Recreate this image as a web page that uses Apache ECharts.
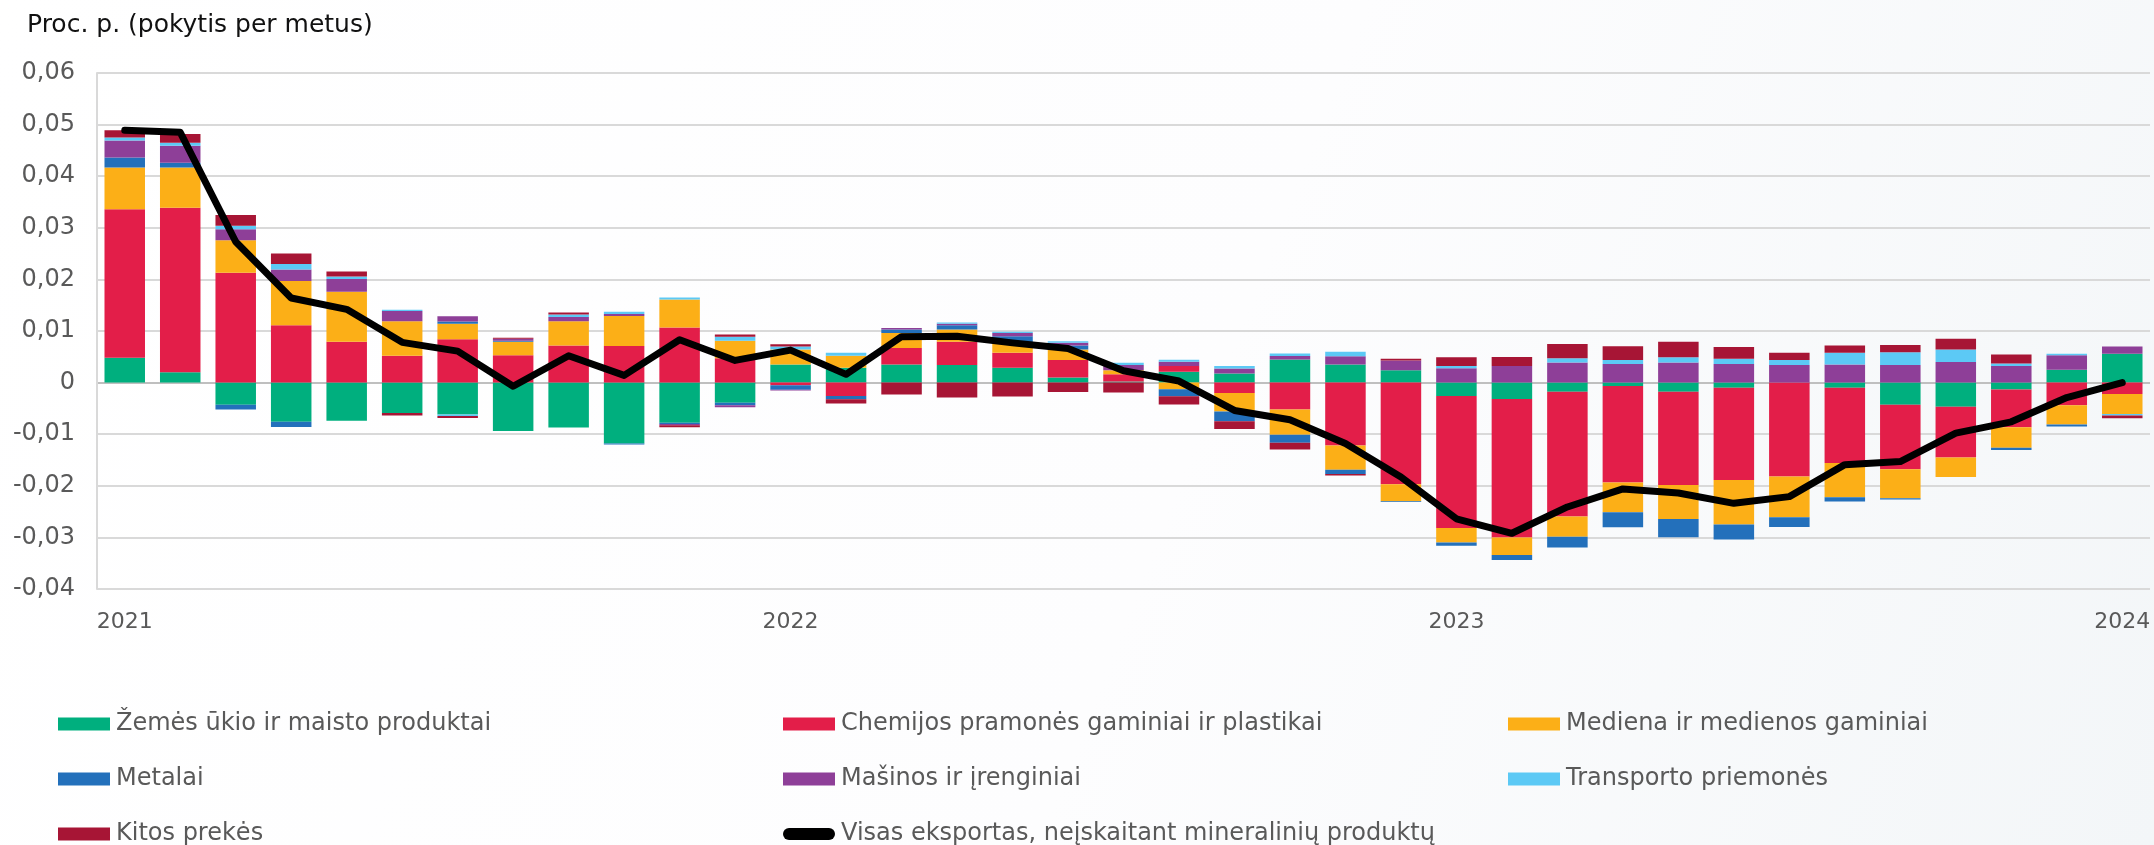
<!DOCTYPE html>
<html>
<head>
<meta charset="utf-8">
<script src="https://cdn.jsdelivr.net/npm/echarts@6/dist/echarts.min.js"></script>
<style>
  html, body { margin: 0; padding: 0; }
  #chart { width: 2154px; height: 845px; }
</style>
</head>
<body>
<div id="chart"></div>
<script>
const months = [
  '2021-01','2021-02','2021-03','2021-04','2021-05','2021-06','2021-07','2021-08','2021-09','2021-10','2021-11','2021-12',
  '2022-01','2022-02','2022-03','2022-04','2022-05','2022-06','2022-07','2022-08','2022-09','2022-10','2022-11','2022-12',
  '2023-01','2023-02','2023-03','2023-04','2023-05','2023-06','2023-07','2023-08','2023-09','2023-10','2023-11','2023-12',
  '2024-01'
]

// proc. p., pokytis per metus
const zemesUkio = [
  0.0048, 0.0020, -0.0043, -0.0076, -0.0074, -0.0059, -0.0062, -0.0094, -0.0087, -0.0118, -0.0078, -0.0039,
  0.0035, 0.0029, 0.0035, 0.0034, 0.0029, 0.0010, 0.0002, 0.0021, 0.00175, 0.0045, 0.0035, 0.0024,
  -0.0026, -0.0032, -0.00175, -0.00065, -0.00175, -0.0010, 0, -0.0010, -0.0043, -0.0047, -0.00135, 0.0025,
  0.0056
]
const chemija = [
  0.0288, 0.0319, 0.0213, 0.0111, 0.0079, 0.0052, 0.0084, 0.0053, 0.0072, 0.0071, 0.0107, 0.0047,
  -0.0005, -0.0026, 0.0032, 0.0045, 0.0029, 0.0034, 0.0014, 0.0011, -0.0020, -0.0052, -0.0122, -0.0197,
  -0.0256, -0.0268, -0.0242, -0.0187, -0.0181, -0.0179, -0.0182, -0.0146, -0.0125, -0.0098, -0.0073, -0.0044,
  -0.0022
]
const mediena = [
  0.0081, 0.0078, 0.0063, 0.0086, 0.0097, 0.0067, 0.0030, 0.0026, 0.0047, 0.0058, 0.0054, 0.0034,
  0.0029, 0.0023, 0.0029, 0.0024, 0.0019, 0.0020, 0.0008, -0.0013, -0.0036, -0.0049, -0.0047, -0.0033,
  -0.0028, -0.0034, -0.0039, -0.0058, -0.0066, -0.0086, -0.0079, -0.0066, -0.0056, -0.0038, -0.0040, -0.0037,
  -0.0039
]
const metalai = [
  0.0019, 0.0009, -0.0009, -0.0010, 0, 0, 0.00045, 0.0002, 0, -0.0002, -0.0002, -0.0005,
  -0.0009, -0.00065, 0.0007, 0.0008, 0.0013, 0.0008, 0, -0.00135, -0.0019, -0.00155, -0.0008, -0.00015,
  -0.0006, -0.0010, -0.0021, -0.0029, -0.0035, -0.0029, -0.0019, -0.00085, -0.00025, 0, -0.0004, -0.0004,
  0
]
const masinos = [
  0.0033, 0.0033, 0.0021, 0.0022, 0.0025, 0.0020, 0.0010, 0.0004, 0.0008, 0.0004, -0.00025, -0.0004,
  -0.00015, 0, 0.0003, 0.0003, 0.0006, 0.0005, 0.0010, 0.00085, 0.0010, 0.00065, 0.0016, 0.0019,
  0.0028, 0.0032, 0.0039, 0.0036, 0.0039, 0.0036, 0.0034, 0.0035, 0.0034, 0.0040, 0.0032, 0.0028,
  0.0014
]
const transportas = [
  0.0006, 0.0006, 0.0007, 0.0011, 0.00045, 0.0002, -0.00025, 0, 0.0005, 0.00045, 0.0004, 0.0008,
  0.0006, 0.0006, 0, 0.00025, 0.00025, 0.0003, 0.00045, 0.0004, 0.00045, 0.0005, 0.0009, 0,
  0.0004, 0, 0.0008, 0.0008, 0.0010, 0.0010, 0.0010, 0.0023, 0.0025, 0.0024, 0.0005, 0.0003,
  -0.0003
]
const kitos = [
  0.0014, 0.0017, 0.0021, 0.0020, 0.0010, -0.0005, -0.0004, 0.0002, 0.0004, 0, -0.0004, 0.0004,
  0.00045, -0.0008, -0.0023, -0.0029, -0.0027, -0.0018, -0.0019, -0.0016, -0.0015, -0.0013, -0.0003, 0.0003,
  0.0017, 0.00175, 0.0028, 0.00265, 0.0030, 0.0023, 0.0014, 0.0014, 0.0014, 0.0021, 0.00175, 0,
  -0.0005
]
const visas = [
  0.0489, 0.0485, 0.0273, 0.0164, 0.0142, 0.0078, 0.0061, -0.0007, 0.0052, 0.0014, 0.0083, 0.0043,
  0.0063, 0.0016, 0.0089, 0.0090, 0.0077, 0.0066, 0.0023, 0.0003, -0.0054, -0.0072, -0.0118, -0.0183,
  -0.0264, -0.0292, -0.0241, -0.0206, -0.0214, -0.0234, -0.0221, -0.0159, -0.0153, -0.0098, -0.0076, -0.0029,
  0.0000
]

const barSeries = [
  { name: 'Žemės ūkio ir maisto produktai', data: zemesUkio, color: '#00AF7E' },
  { name: 'Chemijos pramonės gaminiai ir plastikai', data: chemija, color: '#E31E49' },
  { name: 'Mediena ir medienos gaminiai', data: mediena, color: '#FCAF17' },
  { name: 'Metalai', data: metalai, color: '#2370BB' },
  { name: 'Mašinos ir įrenginiai', data: masinos, color: '#8E3F98' },
  { name: 'Transporto priemonės', data: transportas, color: '#5CC9F5' },
  { name: 'Kitos prekės', data: kitos, color: '#A71535' }
]
const lineName = 'Visas eksportas, neįskaitant mineralinių produktų'

const font = 'DejaVu Sans, Verdana, sans-serif'
const textColor = '#595959'
const gridColor = '#d9d9d9'

// legend slots: 3 columns x 3 rows (legend has 5px default padding)
const legendCols = [53, 778, 1503]
const legendRows = [706, 761, 816]
const legendNames = barSeries.map(s => s.name).concat(lineName)

const legends = legendNames.map((name, i) => ({
  left: legendCols[i % 3],
  top: legendRows[Math.floor(i / 3)],
  itemWidth: 52,
  itemHeight: 13,
  itemGap: 0,
  selectedMode: false,
  icon: name === lineName
    ? 'path://M6,0 L46,0 A6,6 0 0 1 46,12 L6,12 A6,6 0 0 1 6,0 Z'
    : 'rect',
  textStyle: { fontFamily: font, fontSize: 24, color: textColor, lineHeight: 26, padding: [0, 0, 0, 1] },
  data: [name]
}))

const splitColors = []
for (let i = 0; i <= 10; i++) splitColors.push(i === 4 ? '#bfbfbf' : gridColor)

const chart = echarts.init(document.getElementById('chart'), null, { renderer: 'canvas' })

chart.setOption({
  animation: false,
  backgroundColor: {
    type: 'linear', x: 0, y: 0, x2: 1, y2: 1,
    colorStops: [
      { offset: 0, color: '#ffffff' },
      { offset: 0.55, color: '#fdfdfe' },
      { offset: 1, color: '#f3f6f8' }
    ]
  },
  title: {
    text: 'Proc. p. (pokytis per metus)',
    left: 22,
    top: 8,
    textStyle: { fontFamily: font, fontSize: 25, fontWeight: 'normal', color: '#111111' }
  },
  legend: legends,
  grid: { left: 97, right: 4, top: 73, bottom: 256, containLabel: false },
  xAxis: {
    type: 'category',
    data: months,
    axisLine: { show: false, onZero: false },
    axisTick: { show: false },
    axisLabel: {
      interval: 11,
      margin: 22,
      fontFamily: font,
      fontSize: 22,
      color: textColor,
      formatter: v => v.slice(0, 4)
    }
  },
  yAxis: {
    type: 'value',
    min: -0.04,
    max: 0.06,
    interval: 0.01,
    axisLine: { show: true, lineStyle: { color: gridColor, width: 2 } },
    axisTick: { show: false },
    splitLine: { lineStyle: { color: splitColors, width: 2 } },
    axisLabel: {
      margin: 22,
      fontFamily: font,
      fontSize: 24,
      color: textColor,
      formatter: v => (Math.abs(v) < 1e-9 ? '0' : v.toFixed(2).replace('.', ','))
    }
  },
  series: barSeries.map(s => ({
    name: s.name,
    type: 'bar',
    stack: 'total',
    barCategoryGap: '27%',
    data: s.data,
    itemStyle: { color: s.color }
  })).concat([{
    name: lineName,
    type: 'line',
    data: visas,
    symbol: 'none',
    z: 5,
    itemStyle: { color: '#000000' },
    lineStyle: { color: '#000000', width: 7, cap: 'round', join: 'round' }
  }])
})
</script>
</body>
</html>
